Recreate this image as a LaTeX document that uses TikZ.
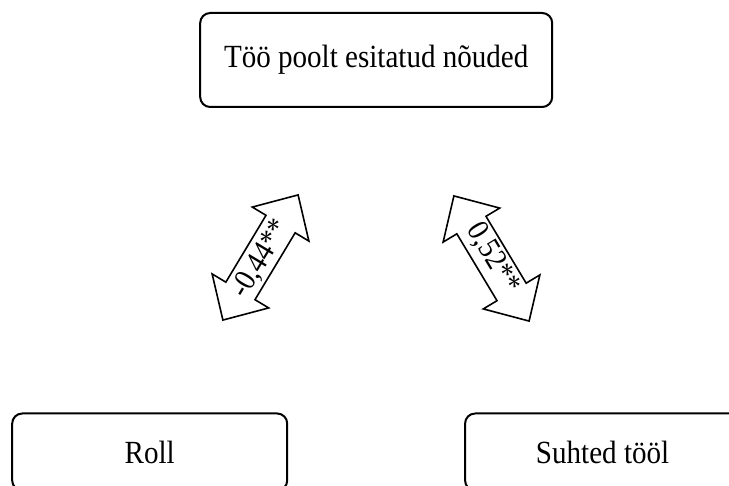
\documentclass[tikz,border=0pt]{standalone}
\usepackage{fontspec}
\setmainfont{Liberation Serif}[FakeStretch=0.9]
\tikzset{
  boxnode/.style={draw=black, line width=2pt, rounded corners=10pt, rectangle, fill=white,
    font=\fontsize{32.3}{38}\selectfont, inner sep=0pt},
  arrowshape/.style={draw=black, line width=1.6pt, fill=white, line join=miter},
  arrowtext/.style={font=\fontsize{31}{36}\selectfont, inner sep=0pt}
}
\begin{document}
\begin{tikzpicture}[x=1pt,y=-1pt]
\useasboundingbox (0,0) rectangle (729,486);
\clip (0,0) rectangle (729,486);
\fill[white] (0,0) rectangle (729,486);

\node[boxnode, minimum width=352pt, minimum height=94pt] (top) at (376.2,60) {Töö poolt esitatud nõuded};
\node[boxnode, minimum width=275pt, minimum height=77pt] (roll) at (149.7,452) {Roll};
\node[boxnode, minimum width=275pt, minimum height=77pt] (suhted) at (602.6,452) {Suhted tööl};

% left double arrow
\begin{scope}[shift={(260.5,257.5)}, rotate=59]
  \draw[arrowshape] (73,0) -- (39,33) -- (39,17) -- (-39,17) -- (-39,33) -- (-73,0)
    -- (-39,-33) -- (-39,-17) -- (39,-17) -- (39,-33) -- cycle;
\end{scope}
\node[arrowtext, rotate=59] (lt) at (261,259) {-0,44**};

% right double arrow
\begin{scope}[shift={(491.5,258.5)}, rotate=-59]
  \draw[arrowshape] (73,0) -- (39,33) -- (39,17) -- (-39,17) -- (-39,33) -- (-73,0)
    -- (-39,-33) -- (-39,-17) -- (39,-17) -- (39,-33) -- cycle;
\end{scope}
\node[arrowtext, rotate=-59] (rt) at (493,258) {0,52**};
\end{tikzpicture}
\end{document}
